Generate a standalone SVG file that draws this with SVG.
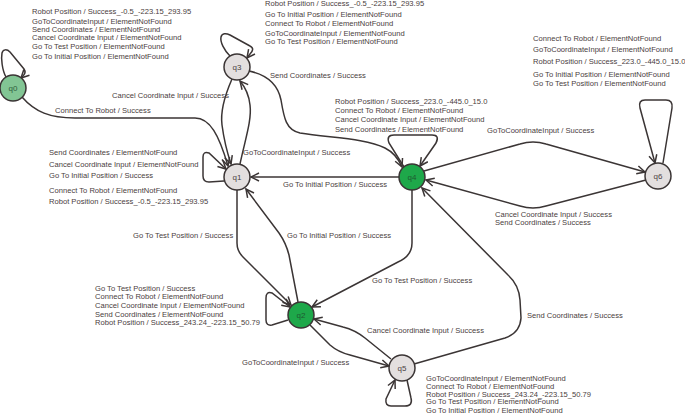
<svg xmlns="http://www.w3.org/2000/svg" width="685" height="417" viewBox="0 0 685 417">
<style>
.lbl{font-family:"Liberation Sans",Arial,sans-serif;font-size:7.6px;fill:#4a4040}
.nl{font-family:"Liberation Sans",Arial,sans-serif;font-size:8px;text-anchor:middle}
.gray{fill:#e3dfdf;stroke:#3b3535;stroke-width:1.5}
.lg{fill:#82c594;stroke:#3b3535;stroke-width:1.5}
.dg{fill:#1ea84a;stroke:#3b3535;stroke-width:1.5}
.e{fill:none;stroke:#3b3535;stroke-width:1.5;marker-end:url(#ah)}
</style>
<defs>
<marker id="ah" markerUnits="userSpaceOnUse" markerWidth="12" markerHeight="12" refX="9" refY="5" orient="auto">
<path d="M1,1 L9,5 L1,9" fill="none" stroke="#3b3535" stroke-width="1.5"/>
</marker>
</defs>
<rect width="685" height="417" fill="#ffffff"/>
<g id="connectors">
<path class="e" d="M22,97 C35,112 50,118 75,118 L195,118 C210,118 219,135 228,166"/>
<path class="e" d="M232,79 C225,95 220,110 222,125 C224,140 228,155 231,164"/>
<path class="e" d="M240,164 C245,140 252,120 250,105 C249,95 245,87 240,81"/>
<path class="e" d="M249,71 C268,75 278,85 281,100 C284,118 286,130 300,133 C330,138 365,138 385,148 C395,153 399,160 402,167"/>
<path class="e" d="M399,177 L251,177"/>
<path class="e" d="M424,171 L520,144 Q533,140 546,144 L645,172"/>
<path class="e" d="M646,180 L546,206 Q533,210 520,206 L426,180"/>
<path class="e" d="M414,364 L505,338 Q520,333 521,318 L520,300 Q519,285 508,275 L422,188"/>
<path class="e" d="M412,190 L412,243 Q412,256 398,262 L312,307"/>
<path class="e" d="M237,190 L237,243 Q237,251 243,257 L291,305"/>
<path class="e" d="M298,302 L289,255 Q286,243 279,233 L246,189"/>
<path class="e" d="M310,325 L330,345 Q338,352 350,355 L389,366"/>
<path class="e" d="M391,359 L365,338 Q355,330 343,327 L314,319"/>
<path class="e" d="M6,77 C2,70 1,58 2,53 C3,49 7,49 10,52 L24,69 C26,72 25,74 23,76 L21,78"/>
<path class="e" d="M230,56 C224,50 220,42 221,37 C222,33 226,33 230,35 L250,46 C254,48 253,51 250,54 L247,58"/>
<path class="e" d="M404,167 L389,143 Q386,135 394,135 L432,135 Q440,135 436,143 L420,166"/>
<path class="e" d="M663,163 L672,108 Q673,100 666,100 L645,100 Q638,100 640,108 L655,163"/>
<path class="e" d="M224,181 L209,182 Q203,182 203,176 L203,157 Q203,151 209,153 L226,169"/>
<path class="e" d="M288,320 L272,325 Q266,326 266,320 L266,298 Q266,291 272,293 L290,307"/>
<path class="e" d="M407,380 L411,398 Q413,406 405,406 L391,406 Q385,406 386,399 L395,380"/>
</g>
<g id="edge-labels">
<text class="lbl" x="55" y="112.7">Connect To Robot / Success</text>
<text class="lbl" x="112" y="98.4">Cancel Coordinate Input / Success</text>
<text class="lbl" x="243" y="154.7">GoToCoordinateInput / Success</text>
<text class="lbl" x="270" y="78">Send Coordinates / Success</text>
<text class="lbl" x="283" y="187">Go To Initial Position / Success</text>
<text class="lbl" x="487" y="132.7">GoToCoordinateInput / Success</text>
<text class="lbl" x="495" y="217">Cancel Coordinate Input / Success</text>
<text class="lbl" x="495" y="225.4">Send Coordinates / Success</text>
<text class="lbl" x="133" y="238.4">Go To Test Position / Success</text>
<text class="lbl" x="287" y="238.4">Go To Initial Position / Success</text>
<text class="lbl" x="372" y="282.7">Go To Test Position / Success</text>
<text class="lbl" x="367" y="332.7">Cancel Coordinate Input / Success</text>
<text class="lbl" x="242" y="365.4">GoToCoordinateInput / Success</text>
<text class="lbl" x="527" y="317.7">Send Coordinates / Success</text>
<text class="lbl" x="32" y="13.7">Robot Position / Success_-0.5_-223.15_293.95</text>
<text class="lbl" x="32" y="24">GoToCoordinateInput / ElementNotFound</text>
<text class="lbl" x="32" y="32">Send Coordinates / ElementNotFound</text>
<text class="lbl" x="32" y="40.4">Cancel Coordinate Input / ElementNotFound</text>
<text class="lbl" x="32" y="48.7">Go To Test Position / ElementNotFound</text>
<text class="lbl" x="32" y="58.7">Go To Initial Position / ElementNotFound</text>
<text class="lbl" x="265" y="5.8">Robot Position / Success_-0.5_-223.15_293.95</text>
<text class="lbl" x="265" y="16.7">Go To Initial Position / ElementNotFound</text>
<text class="lbl" x="265" y="26">Connect To Robot / ElementNotFound</text>
<text class="lbl" x="265" y="36">GoToCoordinateInput / ElementNotFound</text>
<text class="lbl" x="265" y="44.4">Go To Test Position / ElementNotFound</text>
<text class="lbl" x="533" y="40.7">Connect To Robot / ElementNotFound</text>
<text class="lbl" x="533" y="52.2">GoToCoordinateInput / ElementNotFound</text>
<text class="lbl" x="533" y="63.7">Robot Position / Success_223.0_-445.0_15.0</text>
<text class="lbl" x="533" y="77.2">Go To Initial Position / ElementNotFound</text>
<text class="lbl" x="533" y="86.2">Go To Test Position / ElementNotFound</text>
<text class="lbl" x="49" y="155.4">Send Coordinates / ElementNotFound</text>
<text class="lbl" x="49" y="166.7">Cancel Coordinate Input / ElementNotFound</text>
<text class="lbl" x="49" y="177.7">Go To Initial Position / Success</text>
<text class="lbl" x="49" y="192.7">Connect To Robot / ElementNotFound</text>
<text class="lbl" x="49" y="203.7">Robot Position / Success_-0.5_-223.15_293.95</text>
<text class="lbl" x="335" y="104.4">Robot Position / Success_223.0_-445.0_15.0</text>
<text class="lbl" x="335" y="112.7">Connect To Robot / ElementNotFound</text>
<text class="lbl" x="335" y="122">Cancel Coordinate Input / ElementNotFound</text>
<text class="lbl" x="335" y="132">Send Coordinates / ElementNotFound</text>
<text class="lbl" x="95" y="291">Go To Test Position / Success</text>
<text class="lbl" x="95" y="299.4">Connect To Robot / ElementNotFound</text>
<text class="lbl" x="95" y="307.7">Cancel Coordinate Input / ElementNotFound</text>
<text class="lbl" x="95" y="316.7">Send Coordinates / ElementNotFound</text>
<text class="lbl" x="95" y="325.4">Robot Position / Success_243.24_-223.15_50.79</text>
<text class="lbl" x="426" y="381">GoToCoordinateInput / ElementNotFound</text>
<text class="lbl" x="426" y="388.7">Connect To Robot / ElementNotFound</text>
<text class="lbl" x="426" y="396.7">Robot Position / Success_243.24_-223.15_50.79</text>
<text class="lbl" x="426" y="404.4">Go To Test Position / ElementNotFound</text>
<text class="lbl" x="426" y="413.4">Go To Initial Position / ElementNotFound</text>
</g>
<g id="q0"><circle class="lg" cx="13" cy="88" r="13"/><text class="nl" x="13" y="91" fill="#2f5e3c">q0</text></g>
<g id="q3"><circle class="gray" cx="237" cy="67" r="13"/><text class="nl" x="237" y="70" fill="#4b3f3f">q3</text></g>
<g id="q1"><circle class="gray" cx="237" cy="177" r="13"/><text class="nl" x="237" y="180" fill="#4b3f3f">q1</text></g>
<g id="q4"><circle class="dg" cx="412" cy="177" r="13"/><text class="nl" x="412" y="180" fill="#1f5a31">q4</text></g>
<g id="q6"><circle class="gray" cx="658" cy="176" r="13"/><text class="nl" x="658" y="179" fill="#4b3f3f">q6</text></g>
<g id="q2"><circle class="dg" cx="301" cy="315" r="13"/><text class="nl" x="301" y="318" fill="#1f5a31">q2</text></g>
<g id="q5"><circle class="gray" cx="402" cy="368" r="13"/><text class="nl" x="402" y="371" fill="#4b3f3f">q5</text></g>
</svg>
